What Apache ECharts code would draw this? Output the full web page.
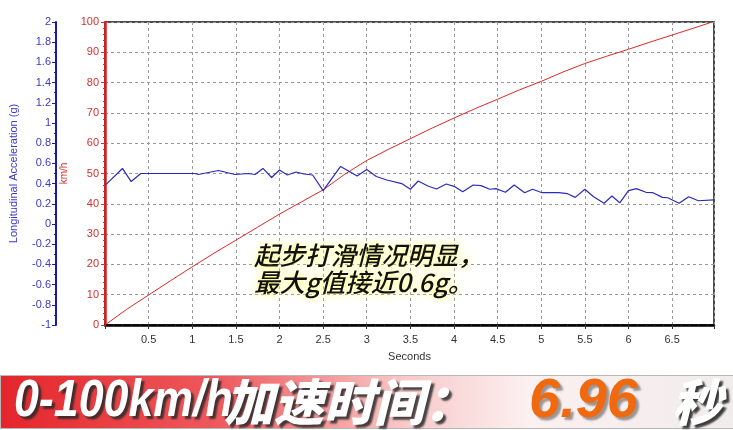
<!DOCTYPE html>
<html>
<head>
<meta charset="utf-8">
<script src="https://cdn.jsdelivr.net/npm/echarts@6/dist/echarts.min.js"></script>
<style>
html,body{margin:0;padding:0;background:#fff;}
#main{width:733px;height:430px;}
</style>
</head>
<body>
<div id="main"></div>
<script>
// ---- data ----
var speedTimes = [0, 0.25, 0.5, 0.75, 1.0, 1.25, 1.5, 1.75, 2.0, 2.25, 2.5, 2.75, 3.0, 3.25, 3.5, 3.75, 4.0, 4.25, 4.5, 4.75, 5.0, 5.25, 5.5, 5.75, 6.0, 6.25, 6.5, 6.75, 6.96];
var speedValues = [0, 5.2, 9.9, 14.6, 19.2, 23.7, 28.0, 32.3, 36.6, 40.6, 44.6, 49.8, 54.3, 58.0, 61.5, 65.0, 68.3, 71.5, 74.5, 77.6, 80.4, 83.5, 86.3, 88.7, 91.0, 93.4, 95.7, 98.0, 100];
var accelTimes = [0.01, 0.20, 0.30, 0.41, 0.58, 0.81, 1.03, 1.07, 1.30, 1.49, 1.64, 1.72, 1.81, 1.91, 2.00, 2.09, 2.19, 2.28, 2.38, 2.50, 2.70, 2.89, 3.00, 3.11, 3.23, 3.40, 3.50, 3.59, 3.70, 3.80, 3.91, 4.01, 4.10, 4.22, 4.31, 4.41, 4.48, 4.59, 4.69, 4.81, 4.90, 5.01, 5.20, 5.30, 5.39, 5.50, 5.60, 5.72, 5.81, 5.90, 6.00, 6.09, 6.20, 6.28, 6.39, 6.45, 6.58, 6.69, 6.80, 6.98];
var accelValues = [0.39, 0.55, 0.42, 0.50, 0.50, 0.50, 0.50, 0.49, 0.53, 0.49, 0.50, 0.49, 0.55, 0.46, 0.535, 0.485, 0.515, 0.495, 0.485, 0.33, 0.57, 0.475, 0.54, 0.47, 0.436, 0.40, 0.344, 0.426, 0.376, 0.347, 0.396, 0.37, 0.32, 0.386, 0.38, 0.344, 0.35, 0.314, 0.386, 0.31, 0.344, 0.31, 0.31, 0.30, 0.264, 0.344, 0.27, 0.205, 0.277, 0.21, 0.33, 0.35, 0.314, 0.31, 0.264, 0.26, 0.205, 0.27, 0.23, 0.238];
var xTickLabels = ['0.5', '1', '1.5', '2', '2.5', '3', '3.5', '4', '4.5', '5', '5.5', '6', '6.5'];
var xAxisName = 'Seconds';
var accelAxisName = 'Longitudinal Acceleration (g)';
var speedAxisName = 'km/h';
var noteLines = ['起步打滑情况明显，', '最大g值接近0.6g。'];
var bannerParts = ['0-100km/h', '加速时间：', '6.96', '秒'];

var speedData = speedTimes.map(function (t, i) { return [t, speedValues[i]]; });
var accelData = accelTimes.map(function (t, i) { return [t, accelValues[i]]; });

var chart = echarts.init(document.getElementById('main'), null, {renderer: 'canvas'});
var FONT = 'Liberation Sans, Arial, sans-serif';
var BLUE = '#2b2bb8';
var RED = '#e02828';

function bannerText(x, txt, font, fill, sh, extra) {
  var st = {text: txt, fill: fill, textVerticalAlign: 'middle', font: font,
    textShadowColor: sh, textShadowBlur: 2, textShadowOffsetX: 3, textShadowOffsetY: 3};
  var el = {type: 'text', x: x, y: 402, z: 21, style: st};
  if (extra) { for (var k in extra) el[k] = extra[k]; }
  return el;
}

var option = {
  animation: false,
  backgroundColor: '#ffffff',
  grid: {left: 99, right: 19, top: 22, bottom: 105, show: true, borderColor: '#111', borderWidth: 1.5, containLabel: false},
  xAxis: {
    type: 'value', min: 0, max: 6.98, interval: 0.5,
    name: xAxisName, nameLocation: 'middle', nameGap: 26,
    nameTextStyle: {color: '#333', fontSize: 11, fontFamily: FONT},
    axisLine: {show: true, onZero: false, lineStyle: {color: '#000', width: 2.5}},
    axisTick: {show: true, length: 4, lineStyle: {color: '#333'}},
    minorTick: {show: true, splitNumber: 5, length: 2, lineStyle: {color: '#333'}},
    axisLabel: {color: '#333', fontSize: 11, fontFamily: FONT, margin: 9, showMaxLabel: false,
      formatter: function (v) { var s = String(Math.round(v * 10) / 10); return xTickLabels.indexOf(s) >= 0 ? s : ''; }},
    splitLine: {show: true, lineStyle: {color: '#999', type: [3, 3], width: 1}}
  },
  yAxis: [
    {
      type: 'value', min: -1, max: 2, interval: 0.2, position: 'left', offset: 49,
      name: accelAxisName, nameLocation: 'middle', nameGap: 37, nameRotate: 90,
      nameTextStyle: {color: '#3a3ac0', fontSize: 11, fontFamily: FONT},
      axisLine: {show: true, onZero: false, lineStyle: {color: '#1a1ab0', width: 2}},
      axisTick: {show: true, length: 4, lineStyle: {color: '#1a1ab0'}},
      minorTick: {show: true, splitNumber: 2, length: 2, lineStyle: {color: '#1a1ab0'}},
      axisLabel: {color: '#3a3ac0', fontSize: 11, fontFamily: FONT, margin: 5,
        formatter: function (v) { return String(Math.round(v * 10) / 10); }},
      splitLine: {show: false}
    },
    {
      type: 'value', min: 0, max: 100, interval: 10, position: 'left', offset: 0,
      name: speedAxisName, nameLocation: 'middle', nameGap: 32, nameRotate: 90,
      nameTextStyle: {color: '#d03030', fontSize: 10, fontFamily: FONT},
      axisLine: {show: true, onZero: false, lineStyle: {color: '#e01818', width: 2.5}},
      axisTick: {show: true, length: 4, lineStyle: {color: '#d03030'}},
      minorTick: {show: true, splitNumber: 5, length: 2, lineStyle: {color: '#d03030'}},
      axisLabel: {color: '#d03030', fontSize: 11, fontFamily: FONT, margin: 6},
      splitLine: {show: true, lineStyle: {color: '#999', type: [3, 3], width: 1}}
    }
  ],
  series: [
    {type: 'line', yAxisIndex: 1, data: speedData, symbol: 'none', lineStyle: {color: RED, width: 1}, z: 3},
    {type: 'line', yAxisIndex: 0, data: accelData, symbol: 'none', lineStyle: {color: BLUE, width: 1.2}, z: 4}
  ],
  graphic: [
    {type: 'text', left: 254, top: 243, z: 20, style: {text: noteLines[0], fill: '#111', font: 'italic 500 25.5px "Noto Sans CJK SC", sans-serif',
      textShadowColor: '#ffff60', textShadowBlur: 8}},
    {type: 'text', left: 254, top: 270, z: 20, style: {text: noteLines[1], fill: '#111', font: 'italic 500 25.5px "Noto Sans CJK SC", sans-serif',
      textShadowColor: '#ffff60', textShadowBlur: 8}},
    {type: 'rect', left: 0, top: 375, z: 10, shape: {width: 733, height: 53},
      style: {fill: new echarts.graphic.LinearGradient(0, 0, 1, 0, [
        {offset: 0, color: '#e4252a'}, {offset: 0.3, color: '#ee5a5e'}, {offset: 0.55, color: '#f8c8c8'},
        {offset: 0.72, color: '#fcf0f0'}, {offset: 1, color: '#f1ecec'}]), stroke: '#b8b8b8', lineWidth: 1}},
    bannerText(14, bannerParts[0], 'italic bold 52px "Liberation Sans", Arial, sans-serif', '#fff', 'rgba(40,40,40,0.85)', {scaleX: 0.86}),
    bannerText(224, bannerParts[1], 'italic 900 50px "Noto Sans CJK SC", sans-serif', '#fff', 'rgba(40,40,40,0.85)'),
    bannerText(529, bannerParts[2], 'italic bold 56px "Liberation Sans", Arial, sans-serif', '#f0690f', 'rgba(60,60,60,0.5)'),
    bannerText(672, bannerParts[3], 'italic 900 50px "Noto Sans CJK SC", sans-serif', '#fff', 'rgba(40,40,40,0.9)')
  ]
};
chart.setOption(option);
</script>
</body>
</html>
